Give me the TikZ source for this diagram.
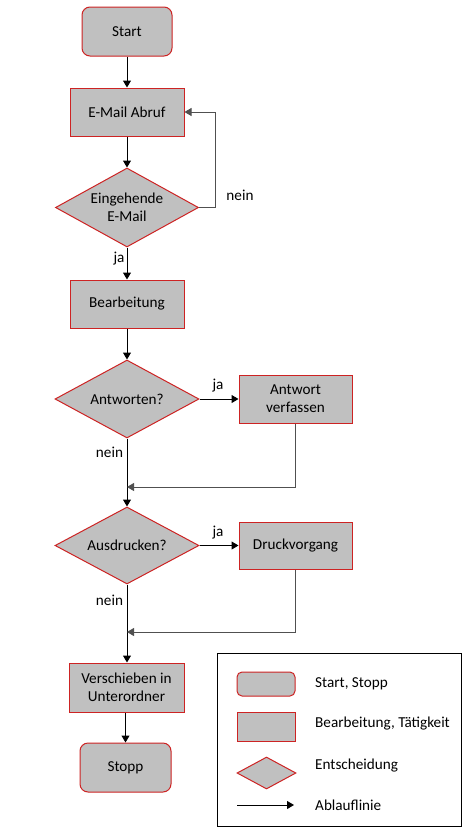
\documentclass[tikz,border=0pt]{standalone}
\usepackage{fontspec}
\setmainfont{Carlito}
\usetikzlibrary{shapes.geometric,arrows.meta}
\definecolor{boxfill}{RGB}{192,192,192}
\definecolor{boxline}{RGB}{205,35,35}
\definecolor{retline}{RGB}{80,80,80}
\begin{document}
\begin{tikzpicture}[x=1pt,y=-1pt,
  font=\fontsize{15.2}{18}\selectfont,
  base/.style={draw=boxline,fill=boxfill,line width=1pt,align=center,inner sep=0pt},
  terminal/.style={base,rounded corners=8pt},
  procbox/.style={base},
  decision/.style={base,diamond,aspect=1.8},
  flow/.style={line width=1pt,-{Triangle[length=7pt,width=8pt]}},
  backflow/.style={flow,draw=retline},
  lbl/.style={inner sep=0pt}]
\useasboundingbox (0,0) rectangle (466,828);
\fill[white] (0,0) rectangle (466,828);
% main flow
\node[terminal,minimum width=90pt,minimum height=49pt] (start) at (127,31.5) {Start};
\node[procbox,minimum width=114pt,minimum height=48pt] (abruf) at (127,112) {E-Mail Abruf};
\node[decision,minimum width=143pt,minimum height=79pt] (eing) at (127,207.5) {Eingehende\\E-Mail};
\node[procbox,minimum width=114pt,minimum height=48pt] (bearb) at (127,304) {Bearbeitung};
\node[decision,minimum width=144pt,minimum height=78pt] (antw) at (127,399) {Antworten?};
\node[procbox,minimum width=113pt,minimum height=48pt] (verf) at (295.5,399) {Antwort\\verfassen};
\node[decision,minimum width=144pt,minimum height=77pt] (ausd) at (127,545.5) {Ausdrucken?};
\node[procbox,minimum width=113pt,minimum height=47pt] (druck) at (295.5,545.5) {Druckvorgang};
\node[procbox,minimum width=115pt,minimum height=49pt] (versch) at (126.5,687.5) {Verschieben in\\Unterordner};
\node[terminal,minimum width=91pt,minimum height=49pt] (stopp) at (125.5,767.5) {Stopp};
% coordinates
\coordinate (loop) at (215,207.5);
\coordinate (m1) at (127,487);
\coordinate (m2) at (127,632);
% connectors
\draw[flow] (start) -- (abruf);
\draw[flow] (abruf) -- (eing);
\draw[backflow] (eing.east) -- (loop) |- (abruf.east);
\draw[flow] (eing) -- (bearb);
\draw[flow] (bearb) -- (antw);
\draw[flow] (antw.east) -- (verf.west);
\draw[flow] (antw.south) -- (ausd.north);
\draw[backflow] (verf.south) |- (m1);
\draw[flow] (ausd.east) -- (druck.west);
\draw[flow] (ausd.south) -- (versch.north -| ausd.south);
\draw[backflow] (druck.south) |- (m2);
\draw[flow] (versch.south -| stopp.north) -- (stopp.north);
% labels
\node[lbl] (l_nein1) at (240,195) {nein};
\node[lbl] (l_ja1) at (119,259) {ja};
\node[lbl] (l_ja2) at (218,386) {ja};
\node[lbl] (l_nein2) at (109.5,452) {nein};
\node[lbl] (l_ja3) at (218,533) {ja};
\node[lbl] (l_nein3) at (109.5,600) {nein};
% legend
\node[draw=black,line width=1pt,minimum width=244pt,minimum height=173pt,inner sep=0pt] (legend) at (339,739.5) {};
\node[terminal,minimum width=58pt,minimum height=24pt,rounded corners=5pt] (lg1) at (266,684) {};
\node[procbox,minimum width=58pt,minimum height=29pt] (lg2) at (266,726.5) {};
\node[decision,minimum width=59pt,minimum height=32pt] (lg3) at (266.5,773) {};
\coordinate (lg4a) at (237,805);
\coordinate (lg4b) at (294,805);
\draw[flow] (lg4a) -- (lg4b);
\node[lbl,anchor=west] (lt1) at (315,684) {Start, Stopp};
\node[lbl,anchor=west] (lt2) at (315,724) {Bearbeitung, Tätigkeit};
\node[lbl,anchor=west] (lt3) at (315,766) {Entscheidung};
\node[lbl,anchor=west] (lt4) at (315,805) {Ablauflinie};
\end{tikzpicture}
\end{document}
